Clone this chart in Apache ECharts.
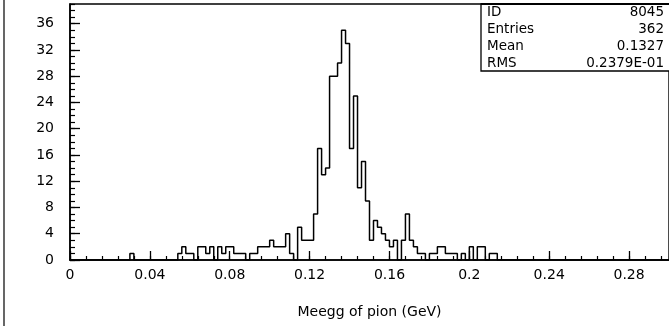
<!DOCTYPE html>
<html><head><meta charset="utf-8">
<script src="https://cdn.jsdelivr.net/npm/echarts@6/dist/echarts.min.js"></script>
<style>html,body{margin:0;padding:0;background:#fff}#c{width:669px;height:326px}</style>
</head><body><div id="c"></div>
<script>
// Histogram counts, 150 bins of width 0.002 GeV from 0 to 0.3
const counts = [
  0,0,0,0,0,0,0,0,0,0, 0,0,0,0,0,1,0,0,0,0,
  0,0,0,0,0,0,0,1,2,1, 1,0,2,2,1,2,0,2,1,2,
  2,1,1,1,0,1,1,2,2,2, 3,2,2,2,4,1,0,5,3,3,
  3,7,17,13,14,28,28,30,35,33, 17,25,11,15,9,3,6,5,4,3,
  2,3,0,3,7,3,2,1,1,0, 1,1,2,2,1,1,1,0,1,0,
  2,0,2,2,0,1,1,0,0,0, 0,0,0,0,0,0,0,0,0,0,
  0,0,0,0,0,0,0,0,0,0, 0,0,0,0,0,0,0,0,0,0,
  0,0,0,0,0,0,0,0,0,0
];
const binWidth = 0.002;
const xMin = 0, xMax = 0.3;
const yMin = 0, yMax = 39;
const xTickLabels = ['0','0.04','0.08','0.12','0.16','0.2','0.24','0.28'];
const yTickLabels = ['0','4','8','12','16','20','24','28','32','36'];
const statNames = ['ID','Entries','Mean','RMS'];
const statValues = ['8045','362','0.1327','0.2379E-01'];
const xTitle = 'Meegg of pion (GeV)';

const FONT = 'DejaVu Sans';
const stepData = counts.map((c, i) => [xMin + i * binWidth, c]);
stepData.push([xMin + counts.length * binWidth, 0]);

const chart = echarts.init(document.getElementById('c'), null, {renderer: 'canvas'});

const statGraphics = [];
statNames.forEach((n, k) => {
  statGraphics.push({type:'text', left: 487, top: 5 + k*17,
    style:{text:n, font:'13.5px "' + FONT + '"', fill:'#000'}});
  statGraphics.push({type:'text', right: 5, top: 5 + k*17,
    style:{text:statValues[k], font:'13.5px "' + FONT + '"', fill:'#000', textAlign:'right'}});
});

chart.setOption({
  animation: false,
  backgroundColor: '#fff',
  grid: {left: 70, top: 4, width: 600, height: 256, show: true, borderColor: '#000', borderWidth: 1.4},
  xAxis: [
    {type:'value', min:xMin, max:xMax, interval:0.04, position:'bottom',
     axisLine:{show:true, lineStyle:{color:'#000', width:1.6}},
     axisTick:{show:true, inside:true, length:9, lineStyle:{color:'#000', width:1.3}},
     axisLabel:{show:true, showMaxLabel:false, margin:8, color:'#000', fontSize:14, fontFamily:FONT,
       formatter: v => xTickLabels[Math.round(v/0.04)] || ''},
     splitLine:{show:false},
     name: xTitle, nameLocation:'middle', nameGap:45,
     nameTextStyle:{color:'#000', fontSize:14, fontFamily:FONT}},
    {type:'value', min:xMin, max:xMax, interval:0.008, position:'bottom',
     axisLine:{show:false}, axisTick:{show:true, inside:true, length:4, lineStyle:{color:'#000', width:1.2}},
     axisLabel:{show:false}, splitLine:{show:false}}
  ],
  yAxis: [
    {type:'value', min:yMin, max:yMax, interval:4, position:'left',
     axisLine:{show:true, lineStyle:{color:'#000', width:1.6}},
     axisTick:{show:true, inside:true, length:10, lineStyle:{color:'#000', width:1.3}},
     axisLabel:{show:true, showMaxLabel:false, margin:16, color:'#000', fontSize:14, fontFamily:FONT,
       formatter: v => yTickLabels[Math.round(v/4)] || ''},
     splitLine:{show:false}},
    {type:'value', min:yMin, max:yMax, interval:1, position:'left',
     axisLine:{show:false}, axisTick:{show:true, inside:true, length:5, lineStyle:{color:'#000', width:1.2}},
     axisLabel:{show:false}, splitLine:{show:false}}
  ],
  series: [{
    type:'line', step:'end', xAxisIndex:0, yAxisIndex:0, data: stepData,
    symbol:'none', lineStyle:{color:'#000', width:1.5}, z: 5
  }],
  graphic: [
    {type:'line', shape:{x1:4, y1:0, x2:4, y2:326}, style:{stroke:'#000', lineWidth:1.2}},
    {type:'rect', shape:{x:481, y:4, width:200, height:67}, style:{stroke:'#000', fill:'#fff', lineWidth:1.3}, z: 10},
    {type:'line', shape:{x1:481, y1:4, x2:669, y2:4}, style:{stroke:'#000', lineWidth:2.2}, z: 11},
    ...statGraphics.map(g => Object.assign(g, {z: 12}))
  ]
});
</script>
</body></html>
